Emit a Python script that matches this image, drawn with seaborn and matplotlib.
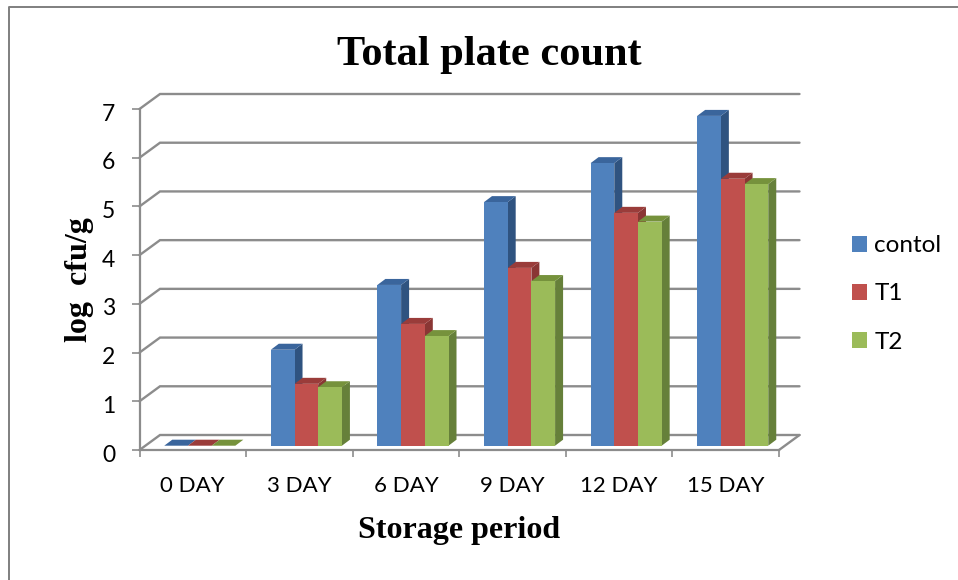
import matplotlib
matplotlib.use("Agg")
import matplotlib.pyplot as plt
from matplotlib.lines import Line2D
from matplotlib.patches import Polygon, Patch
from matplotlib.transforms import ScaledTranslation
import pandas as pd
import seaborn as sns

# Values
gunler = ['0 DAY', '3 DAY', '6 DAY', '9 DAY', '12 DAY', '15 DAY']
contol = [0, 1.97, 3.3, 5.0, 5.8, 6.77]
t1 = [0, 1.27, 2.5, 3.65, 4.78, 5.48]
t2 = [0, 1.2, 2.25, 3.38, 4.6, 5.37]
seri_adlari = ['contol', 'T1', 'T2']

renkler = ['#4F81BD', '#C0504D', '#9BBB59']
yan_renk = ['#2F5380', '#8A3634', '#66803A']
ust_renk = ['#3A659C', '#9A3C3A', '#76923C']
GRI = '#8C8C8C'

df = pd.DataFrame({
    'gun': gunler * 3,
    'seri': [s for s in seri_adlari for _ in gunler],
    'deger': contol + t1 + t2,
})

W, H = 958, 580
sns.set_theme(style='white')
plt.rcParams['font.family'] = ['Lato', 'DejaVu Sans']

fig = plt.figure(figsize=(W / 100, H / 100), dpi=100)


def eksen_konum(sol, alt, gen, yuk):
    # pixel positions (y measured from the top) to figure fractions
    return [sol / W, (H - alt) / H, gen / W, yuk / H]


PLOT_W, PLOT_H = 639.5, 341
birim_x = PLOT_W / 6
birim_y = PLOT_H / 7

# front plane of the chart: ticks, labels, walls
on = fig.add_axes(eksen_konum(139.5, 450, PLOT_W, PLOT_H))
on.set_xlim(-0.5, 5.5)
on.set_ylim(0, 7)
for s in ['top', 'right']:
    on.spines[s].set_visible(False)
for s in ['left', 'bottom']:
    on.spines[s].set_color(GRI)
    on.spines[s].set_linewidth(1.6)
on.set_xticks([i - 0.5 for i in range(7)])
on.set_xticklabels([])
on.set_xticks(range(6), gunler, minor=True)
on.set_yticks(range(8))
on.tick_params(axis='x', which='major', length=5, width=1.2, color=GRI, bottom=True)
on.tick_params(axis='x', which='minor', length=0, pad=19, labelsize=16, labelcolor='black')
on.tick_params(axis='y', length=5.5, width=1.2, color=GRI, left=True, pad=12, labelsize=16.5, labelcolor='black')
# digits sit a little lower than the tick marks
kaydir = ScaledTranslation(0, -3 / 100, fig.dpi_scale_trans)
for lab in on.get_yticklabels():
    lab.set_transform(lab.get_transform() + kaydir)

# walls: depth of the back plane
dx = 20.5 / birim_x
dy = 15 / birim_y
for v in range(8):
    on.plot([-0.5, -0.5 + dx, 5.5 + dx], [v, v + dy, v + dy], color=GRI, lw=1.7, clip_on=False, solid_joinstyle='miter')
on.plot([5.5, 5.5 + dx], [0, dy], color=GRI, lw=1.7, clip_on=False)

on.set_xlabel('Storage period', family='Liberation Serif', fontweight='bold', fontsize=23, labelpad=14, color='black')
on.set_ylabel('log  cfu/g', family='Liberation Serif', fontweight='bold', fontsize=23, labelpad=5.5, color='black')

# bars plane, a bit deeper than the front one
ax = fig.add_axes(eksen_konum(146.5, 445.7, PLOT_W, PLOT_H))
ax.patch.set_alpha(0)
sns.barplot(data=df, x='gun', y='deger', hue='seri', order=gunler, hue_order=seri_adlari,
            palette=renkler, width=0.667, gap=0, saturation=1, linewidth=0, legend=False, ax=ax)
ax.set_xlim(-0.5, 5.5)
ax.set_ylim(0, 7)
ax.axis('off')

bar_dx = 8 / birim_x
bar_dy = 6 / birim_y
for i, kap in enumerate(ax.containers):
    for bar in kap:
        x0 = bar.get_x()
        x1 = x0 + bar.get_width()
        h = bar.get_height()
        bar.set_zorder(5)
        ax.add_patch(Polygon([(x1, 0), (x1 + bar_dx, bar_dy), (x1 + bar_dx, h + bar_dy), (x1, h)],
                             closed=True, fc=yan_renk[i], lw=0, zorder=3, clip_on=False))
        ax.add_patch(Polygon([(x0, h), (x0 + bar_dx, h + bar_dy), (x1 + bar_dx, h + bar_dy), (x1, h)],
                             closed=True, fc=ust_renk[i], lw=0, zorder=4, clip_on=False))

fig.text(489.5 / W, 1 - 55 / H, 'Total plate count', family='Liberation Serif', fontweight='bold',
         fontsize=30.5, ha='center', va='center', color='black')

handles = [Patch(fc=r, lw=0, label=s) for r, s in zip(renkler, seri_adlari)]
fig.legend(handles=handles, loc='center left', bbox_to_anchor=(852 / W, 1 - 294 / H), frameon=False,
           fontsize=17.5, handlelength=0.62, handleheight=0.62, handletextpad=0.3, labelspacing=1.115,
           borderpad=0, borderaxespad=0, labelcolor='black')

# page border
fig.add_artist(Line2D([8.5 / W, 8.5 / W, 1], [0, 1 - 6.5 / H, 1 - 6.5 / H], color='#7F7F7F', lw=1.4))

fig.savefig('out.png', dpi=100, facecolor='white')
